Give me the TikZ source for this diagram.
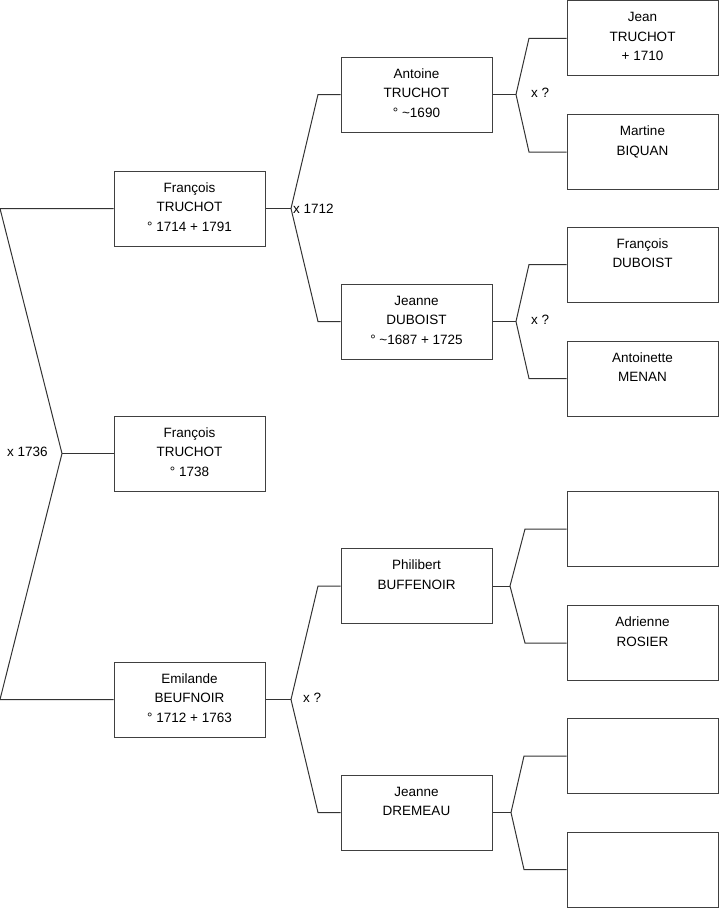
\documentclass[tikz,border=0pt]{standalone}
\usepackage{fontspec}
\setmainfont{Liberation Sans}
\begin{document}
\begin{tikzpicture}[x=1pt,y=-1pt,
  pbox/.style={draw=black!75,line width=1pt,inner sep=0pt,fill=white},
  conn/.style={draw=black!80,line width=1pt},
  lbl/.style={anchor=west,inner sep=0pt,font=\fontsize{13.5}{15}\selectfont}]
\newcommand\famnode[4]{\node[pbox] (#1) at (#2,#3) {\parbox[c][75pt][t]{151pt}{\fontsize{13.5}{19.5}\selectfont\centering\rule{0pt}{21pt}#4\par}};}
\useasboundingbox (0,0) rectangle (719,908);
% column 1
\famnode{f1}{189.5}{208.5}{François\\TRUCHOT\\° 1714 + 1791}
\famnode{f2}{189.5}{453.5}{François\\TRUCHOT\\° 1738}
\famnode{f3}{189.5}{699.5}{Emilande\\BEUFNOIR\\° 1712 + 1763}
% column 2
\famnode{ant}{416.5}{94.5}{Antoine\\TRUCHOT\\° \textasciitilde1690}
\famnode{jd}{416.5}{321.5}{Jeanne\\DUBOIST\\° \textasciitilde1687 + 1725}
\famnode{phb}{416.5}{586}{Philibert\\BUFFENOIR}
\famnode{jdr}{416.5}{812.5}{Jeanne\\DREMEAU}
% column 3
\famnode{jt}{642.5}{38.25}{Jean\\TRUCHOT\\+ 1710}
\famnode{mb}{642.5}{152}{Martine\\BIQUAN}
\famnode{fd}{642.5}{264.5}{François\\DUBOIST}
\famnode{am}{642.5}{378.5}{Antoinette\\MENAN}
\famnode{e1}{642.5}{529}{}
\famnode{ar}{642.5}{643}{Adrienne\\ROSIER}
\famnode{e2}{642.5}{756}{}
\famnode{e3}{642.5}{869.5}{}
% root fork
\coordinate (r0a) at (0,208.5);
\coordinate (r0v) at (62,453.5);
\coordinate (r0b) at (0,699.5);
\draw[conn] (f1.west) -- (r0a) -- (r0v) -- (r0b) -- (f3.west);
\draw[conn] (r0v) -- (f2.west);
\node[lbl] (l0) at (7,452) {x 1736};
% fork of f1
\coordinate (v1) at (291,208.5);
\coordinate (v1a) at (318,94.5);
\coordinate (v1b) at (318,321.5);
\draw[conn] (f1.east) -- (v1);
\draw[conn] (ant.west) -- (v1a) -- (v1) -- (v1b) -- (jd.west);
\node[lbl] (l1) at (293,208.5) {x 1712};
% fork of f3
\coordinate (v2) at (291,699.5);
\coordinate (v2a) at (318,586);
\coordinate (v2b) at (318,812.5);
\draw[conn] (f3.east) -- (v2);
\draw[conn] (phb.west) -- (v2a) -- (v2) -- (v2b) -- (jdr.west);
\node[lbl] (l2) at (303,698) {x ?};
% fork of ant
\coordinate (v3) at (516,94.5);
\coordinate (v3a) at (529,38.25);
\coordinate (v3b) at (529,152);
\draw[conn] (ant.east) -- (v3);
\draw[conn] (jt.west) -- (v3a) -- (v3) -- (v3b) -- (mb.west);
\node[lbl] (l3) at (531,92.5) {x ?};
% fork of jd
\coordinate (v4) at (516,321.5);
\coordinate (v4a) at (529,264.5);
\coordinate (v4b) at (529,378.5);
\draw[conn] (jd.east) -- (v4);
\draw[conn] (fd.west) -- (v4a) -- (v4) -- (v4b) -- (am.west);
\node[lbl] (l4) at (531,319.5) {x ?};
% fork of phb
\coordinate (v5) at (510,586);
\coordinate (v5a) at (525,529);
\coordinate (v5b) at (525,643);
\draw[conn] (phb.east) -- (v5);
\draw[conn] (e1.west) -- (v5a) -- (v5) -- (v5b) -- (ar.west);
% fork of jdr
\coordinate (v6) at (511,812.5);
\coordinate (v6a) at (524,756);
\coordinate (v6b) at (524,869.5);
\draw[conn] (jdr.east) -- (v6);
\draw[conn] (e2.west) -- (v6a) -- (v6) -- (v6b) -- (e3.west);
\end{tikzpicture}
\end{document}
